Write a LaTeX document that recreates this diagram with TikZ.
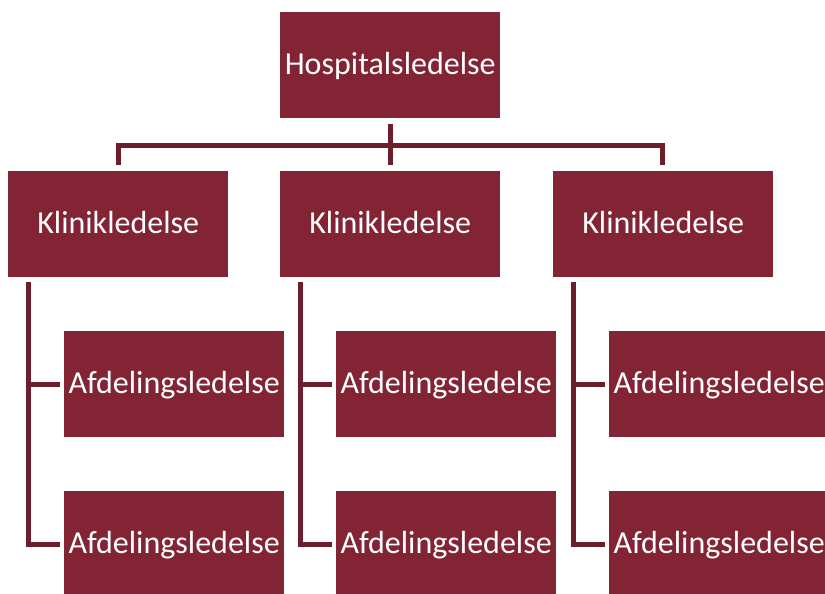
\documentclass[tikz,border=0pt]{standalone}
\usepackage{fontspec}
\setmainfont{Carlito}
\definecolor{boxred}{HTML}{822433}
\definecolor{linered}{HTML}{6E1D2B}
\tikzset{
  orgbox/.style={rectangle, fill=boxred, text=white, anchor=north west, minimum width=220pt, minimum height=106pt, inner sep=0pt, text height=22pt, text depth=4pt, font=\fontsize{32}{38}\selectfont},
  conn/.style={draw=linered, line width=5pt}
}
\begin{document}
\begin{tikzpicture}[x=1pt,y=-1pt]
\clip (0,0) rectangle (825,594);
\useasboundingbox (0,0) rectangle (825,594);
\node[orgbox] (hosp) at (280,12) {Hospitalsledelse};
\node[orgbox] (k1) at (8,171) {Klinikledelse};
\node[orgbox] (k2) at (280,171) {Klinikledelse};
\node[orgbox] (k3) at (553,171) {Klinikledelse};
\node[orgbox] (a11) at (64,331) {Afdelingsledelse};
\node[orgbox] (a12) at (64,491) {Afdelingsledelse};
\node[orgbox] (a21) at (336,331) {Afdelingsledelse};
\node[orgbox] (a22) at (336,491) {Afdelingsledelse};
\node[orgbox] (a31) at (609,331) {Afdelingsledelse};
\node[orgbox] (a32) at (609,491) {Afdelingsledelse};
\coordinate (bus) at (0,145);
\draw[conn] ([yshift=-6pt]hosp.south) -- ([yshift=6pt]k2.north);
\draw[conn] ([yshift=6pt,xshift=-272pt]k2.north) -- ([xshift=-272pt]k2.north |- bus) -- ([xshift=272pt]k2.north |- bus) -- ([yshift=6pt,xshift=272pt]k2.north);
\foreach \k/\a/\b in {k1/a11/a12, k2/a21/a22, k3/a31/a32}{
  \draw[conn] ([xshift=20pt,yshift=-5pt]\k.south west) |- ([xshift=-4pt]\b.west);
  \draw[conn] ([xshift=20pt]\k.south west |- \a.west) -- ([xshift=-4pt]\a.west);
}
\end{tikzpicture}
\end{document}
